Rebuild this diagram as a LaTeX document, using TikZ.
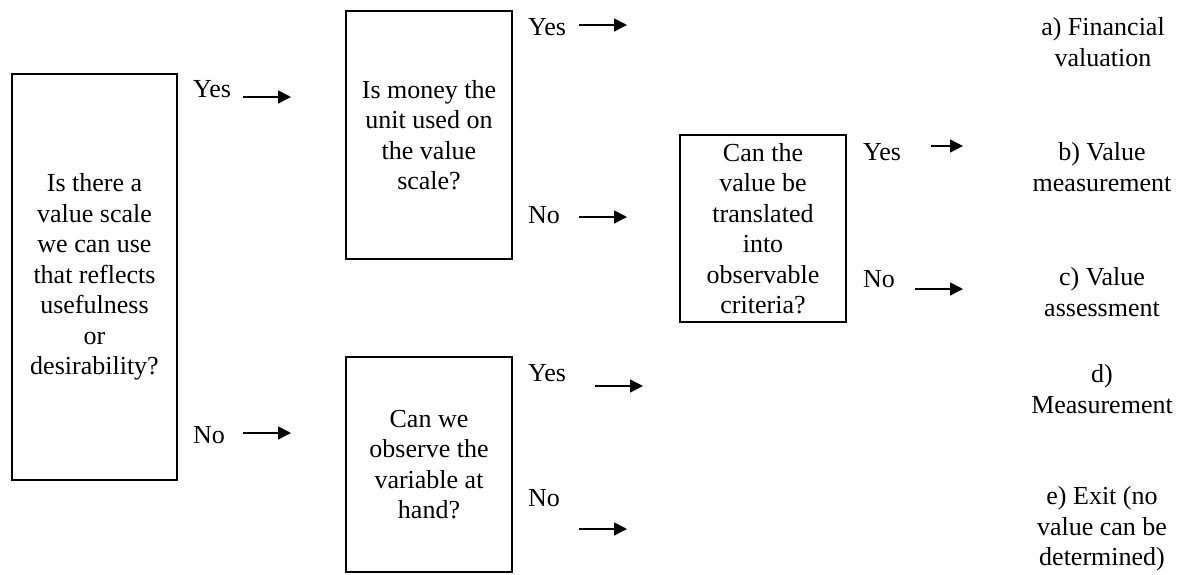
\documentclass[tikz,border=0pt]{standalone}
\usepackage{fontspec}
\setmainfont{Liberation Serif}
\usetikzlibrary{arrows.meta}
\begin{document}
\begin{tikzpicture}[x=1pt,y=-1pt,
  txt/.style={font=\fontsize{26}{30.5}\selectfont},
  qbox/.style={txt,draw,line width=1.6pt,inner sep=0pt,align=center,rectangle},
  lbl/.style={txt,inner sep=0pt,anchor=west},
  res/.style={txt,inner sep=0pt,align=center},
  arr/.style={line width=1.6pt,-{Triangle[length=13pt,width=13pt]}}]
\useasboundingbox (0,0) rectangle (1186,574);

% question boxes
\node[qbox,minimum width=165pt,minimum height=406pt] (q1) at (94.5,277)
  {Is there a\\value scale\\we can use\\that reflects\\usefulness\\or\\desirability?};
\node[qbox,minimum width=166pt,minimum height=248pt] (q2) at (429,135)
  {Is money the\\unit used on\\the value\\scale?};
\node[qbox,minimum width=166pt,minimum height=215pt] (q3) at (429,464.5)
  {Can we\\observe the\\variable at\\hand?};
\node[qbox,minimum width=166pt,minimum height=187pt] (q4) at (763,228.5)
  {Can the\\value be\\translated\\into\\observable\\criteria?};

% Yes / No labels
\node[lbl] (y1) at (193,89) {Yes};
\node[lbl] (n1) at (193,435) {No};
\node[lbl] (y2) at (528,27) {Yes};
\node[lbl] (n2) at (528,215) {No};
\node[lbl] (y3) at (528,373) {Yes};
\node[lbl] (n3) at (528,498) {No};
\node[lbl] (y4) at (863,152) {Yes};
\node[lbl] (n4) at (863,279) {No};

% outcomes
\node[res] (ra) at (1103,42) {a) Financial\\valuation};
\node[res] (rb) at (1102,167) {b) Value\\measurement};
\node[res] (rc) at (1102,292) {c) Value\\assessment};
\node[res] (rd) at (1102,389) {d)\\Measurement};
\node[res] (re) at (1102,529) {e) Exit (no\\value can be\\determined)};

% arrow end points
\coordinate (a1s) at (243,97);  \coordinate (a1e) at (291,97);
\coordinate (b1s) at (243,433); \coordinate (b1e) at (291,433);
\coordinate (a2s) at (579,25);  \coordinate (a2e) at (627,25);
\coordinate (b2s) at (579,217); \coordinate (b2e) at (627,217);
\coordinate (a3s) at (595,386); \coordinate (a3e) at (643,386);
\coordinate (b3s) at (579,529); \coordinate (b3e) at (627,529);
\coordinate (a4s) at (931,146); \coordinate (a4e) at (963,146);
\coordinate (b4s) at (915,289); \coordinate (b4e) at (963,289);

\draw[arr] (a1s) -- (a1e);
\draw[arr] (b1s) -- (b1e);
\draw[arr] (a2s) -- (a2e);
\draw[arr] (b2s) -- (b2e);
\draw[arr] (a3s) -- (a3e);
\draw[arr] (b3s) -- (b3e);
\draw[arr] (a4s) -- (a4e);
\draw[arr] (b4s) -- (b4e);
\end{tikzpicture}
\end{document}
